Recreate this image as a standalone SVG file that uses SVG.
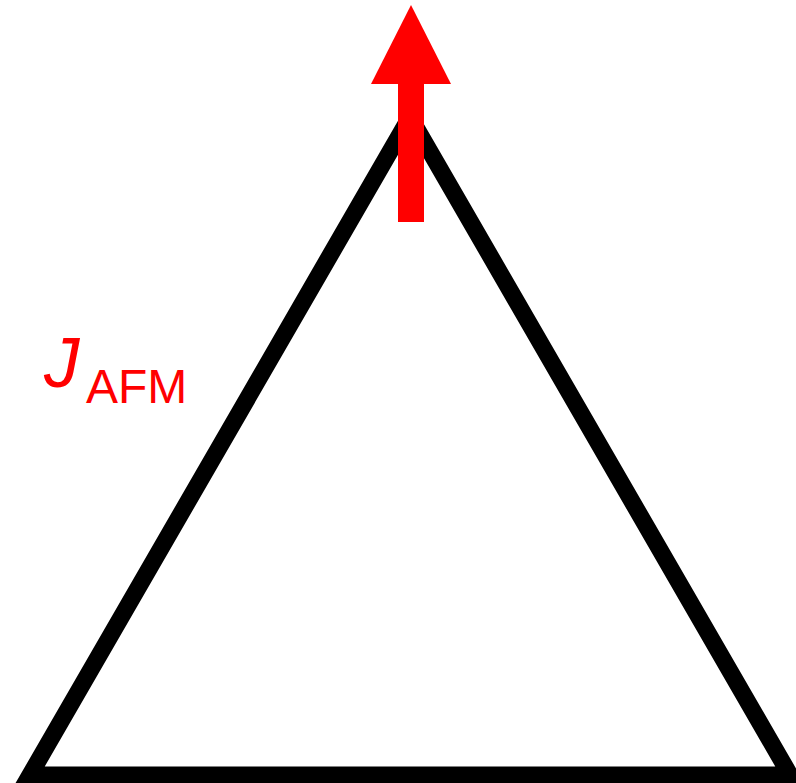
<svg xmlns="http://www.w3.org/2000/svg" width="796" height="783" viewBox="0 0 796 783">
<style>
.edge{fill:none;stroke:#000;stroke-width:17;stroke-linejoin:miter}
.spin{fill:#ff0000}
.lbl{font-family:"Liberation Sans",Arial,sans-serif;fill:#ff0000}
</style>
<rect width="796" height="783" fill="#fff"/>
<g id="connectors">
<polygon class="edge" points="410,117 30,775 790,775"/>
</g>
<g id="spin">
<rect class="spin" x="398" y="83" width="26" height="139"/>
<polygon class="spin" points="411,5 451,84 371,84"/>
</g>
<g id="label">
<text class="lbl" x="44" y="387" font-size="71" font-style="italic">J</text>
<text class="lbl" x="86" y="403" font-size="48">AFM</text>
</g>
</svg>
